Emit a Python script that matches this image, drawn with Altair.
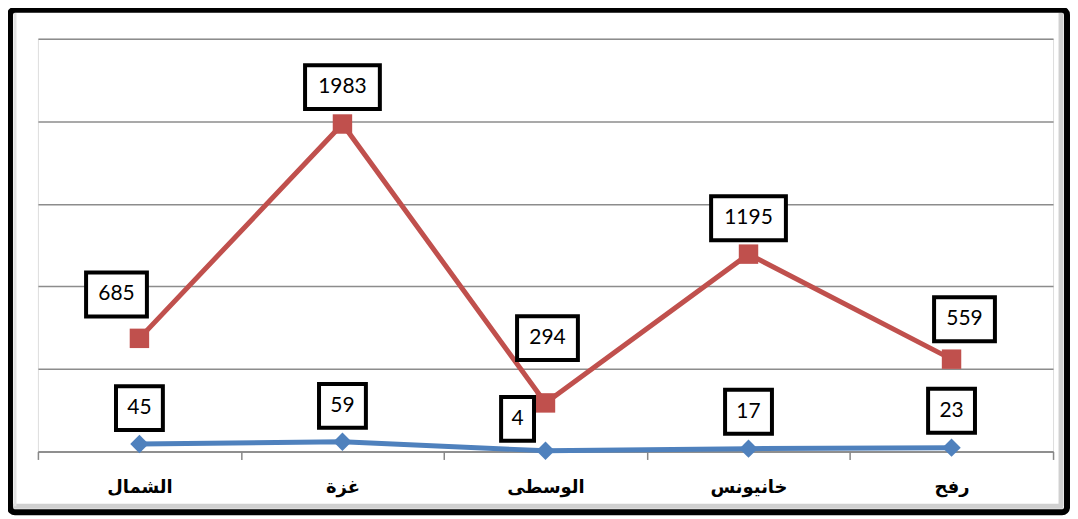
import altair as alt
import pandas as pd

# ---- data ----
categories = ["الشمال", "غزة", "الوسطى", "خانيونس", "رفح"]
series_red = [685, 1983, 294, 1195, 559]
series_blue = [45, 59, 4, 17, 23]
# label nudges (pixels, relative to the point) mirroring the original placement
red_label_dx = [-23, 0, 2, 0, 13]
red_label_dy = [-44, -37, -65, -36, -40]
blue_label_dx = [0, 0, -28, 0, 0]
blue_label_dy = [-36, -36, -32, -37, -37]

rows = []
for i, c in enumerate(categories):
    rows.append(dict(cat=c, series="red", value=series_red[i],
                     ox=red_label_dx[i], oy=red_label_dy[i]))
    rows.append(dict(cat=c, series="blue", value=series_blue[i],
                     ox=blue_label_dx[i], oy=blue_label_dy[i]))
df = pd.DataFrame(rows)
df["label"] = df["value"].astype(str)

W, H = 1018, 414

x_enc = alt.X("cat:N", sort=categories,
              scale=alt.Scale(type="band", paddingInner=0, paddingOuter=0),
              axis=alt.Axis(title=None, labelAngle=0, tickBand="extent",
                            labelFont="DejaVu Sans", labelFontWeight="bold",
                            labelFontSize=18, labelColor="black",
                            labelPadding=19, tickSize=8, tickColor="#888888",
                            tickWidth=1.5, domainColor="#888888", domainWidth=1.5,
                            grid=False))
y_enc = alt.Y("value:Q", scale=alt.Scale(domain=[0, 2500], nice=False, zero=True),
              axis=alt.Axis(title=None, labels=False, ticks=False, domain=False,
                            values=[0, 500, 1000, 1500, 2000, 2500],
                            grid=True, gridColor="#8c8c8c", gridWidth=1.5))
color = alt.Color("series:N", scale=alt.Scale(domain=["red", "blue"],
                                              range=["#C0504D", "#4F81BD"]),
                  legend=None)

base = alt.Chart(df)
one = alt.Data(values=[{}])

# decorative frame with soft inner shadow
shadow_right = alt.Chart(one).mark_rule(color="#d0d0d0", strokeWidth=5).encode(
    x=alt.value(1026), y=alt.value(-26), y2=alt.value(469))
shadow_bottom = alt.Chart(one).mark_rule(color="#d0d0d0", strokeWidth=5).encode(
    y=alt.value(469), x=alt.value(-25), x2=alt.value(1028))
shadow_left = alt.Chart(one).mark_rule(color="#e2e2e2", strokeWidth=3).encode(
    x=alt.value(-23), y=alt.value(-26), y2=alt.value(469))
frame = alt.Chart(one).mark_rect(
    fill="transparent", stroke="black", strokeWidth=6, cornerRadius=5
).encode(x=alt.value(-28), x2=alt.value(1032), y=alt.value(-29), y2=alt.value(475))

lines = base.mark_line(strokeWidth=5).encode(
    x=x_enc, y=y_enc, color=color, detail="series:N")

points = base.mark_point(filled=True, opacity=1).encode(
    x=x_enc, y=y_enc, color=color,
    shape=alt.Shape("series:N", scale=alt.Scale(domain=["red", "blue"],
                                                range=["square", "diamond"]),
                    legend=None),
    size=alt.Size("series:N", scale=alt.Scale(domain=["red", "blue"],
                                              range=[380, 340]), legend=None))

label_layers = []
for r in rows:
    sub = base.transform_filter(
        (alt.datum.cat == r["cat"]) & (alt.datum.series == r["series"]))
    d = len(str(r["value"]))
    w = (19 + 14 * d) / 2 / 40
    h = 22 / 40
    path = f"M{-w},{-h}L{w},{-h}L{w},{h}L{-w},{h}Z"
    label_layers.append(
        sub.mark_point(shape=path, size=6400, filled=True, fill="white",
                       stroke="black", strokeWidth=4, opacity=1,
                       xOffset=r["ox"], yOffset=r["oy"])
        .encode(x=x_enc, y=y_enc)
    )
    label_layers.append(
        sub.mark_text(font="Lato", fontSize=21, color="black",
                      baseline="middle", align="center",
                      dx=r["ox"], dy=r["oy"])
        .encode(x=x_enc, y=y_enc, text="label:N")
    )

chart = alt.layer(shadow_right, shadow_bottom, shadow_left, frame,
                  lines, points, *label_layers).properties(
    width=W, height=H,
    padding={"left": 30, "top": 30, "right": 17, "bottom": 64},
    autosize=alt.AutoSizeParams(type="none"),
).configure_view(stroke=None).configure(background="white")

chart.save("out.html", embed_options={"renderer": "svg", "actions": False})
